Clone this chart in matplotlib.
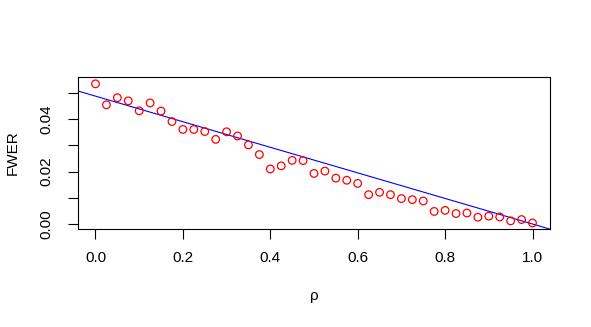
import matplotlib
matplotlib.use("Agg")
import matplotlib.pyplot as plt
import numpy as np

plt.rcParams['font.family'] = ['Liberation Sans', 'DejaVu Sans']

# correlation values and observed family-wise error rates
rho = [0.0, 0.025, 0.05, 0.075, 0.1, 0.125, 0.15, 0.175, 0.2, 0.225,
       0.25, 0.275, 0.3, 0.325, 0.35, 0.375, 0.4, 0.425, 0.45, 0.475,
       0.5, 0.525, 0.55, 0.575, 0.6, 0.625, 0.65, 0.675, 0.7, 0.725,
       0.75, 0.775, 0.8, 0.825, 0.85, 0.875, 0.9, 0.925, 0.95, 0.975, 1.0]
fwer = [0.0535, 0.0455, 0.0482, 0.0470, 0.0432, 0.0462, 0.0431, 0.0391, 0.0361, 0.0361,
        0.0353, 0.0323, 0.0352, 0.0336, 0.0302, 0.0265, 0.0210, 0.0222, 0.0243, 0.0242,
        0.0193, 0.0202, 0.0175, 0.0167, 0.0155, 0.0112, 0.0121, 0.0112, 0.0097, 0.0093,
        0.0088, 0.0048, 0.0052, 0.0040, 0.0042, 0.0026, 0.0030, 0.0027, 0.0012, 0.0017,
        0.0004]

# reference line
line_intercept = 0.0488
line_slope = -0.0488

fig = plt.figure(figsize=(5.91, 3.27), dpi=100)
ax = fig.add_axes([0.132, 0.2997, 0.7986, 0.4648])

ax.scatter(rho, fwer, s=30, facecolors='none', edgecolors='red', linewidths=0.9, zorder=3)

xs = np.array([-0.1, 1.1])
ax.plot(xs, line_intercept + line_slope * xs, color='blue', lw=0.8)

ax.set_xlim(-0.04, 1.04)
ax.set_ylim(-0.0019, 0.0561)

ax.set_xticks([0.0, 0.2, 0.4, 0.6, 0.8, 1.0])
ax.set_xticklabels(['0.0', '0.2', '0.4', '0.6', '0.8', '1.0'])
ax.set_yticks([0.0, 0.01, 0.02, 0.03, 0.04, 0.05])
ax.set_yticklabels(['0.00', '', '0.02', '', '0.04', ''], rotation=90, va='center')

ax.tick_params(direction='out', length=7, width=0.8, labelsize=11)
ax.tick_params(axis='x', pad=9)
ax.tick_params(axis='y', pad=11)
for s in ax.spines.values():
    s.set_linewidth(0.8)

ax.set_xlabel('ρ', fontsize=11, va='center')
ax.xaxis.set_label_coords(0.5, -0.44)
ax.set_ylabel('FWER', fontsize=11, va='center')
ax.yaxis.set_label_coords(-0.139, 0.5)

fig.savefig('out.png', dpi=100)
